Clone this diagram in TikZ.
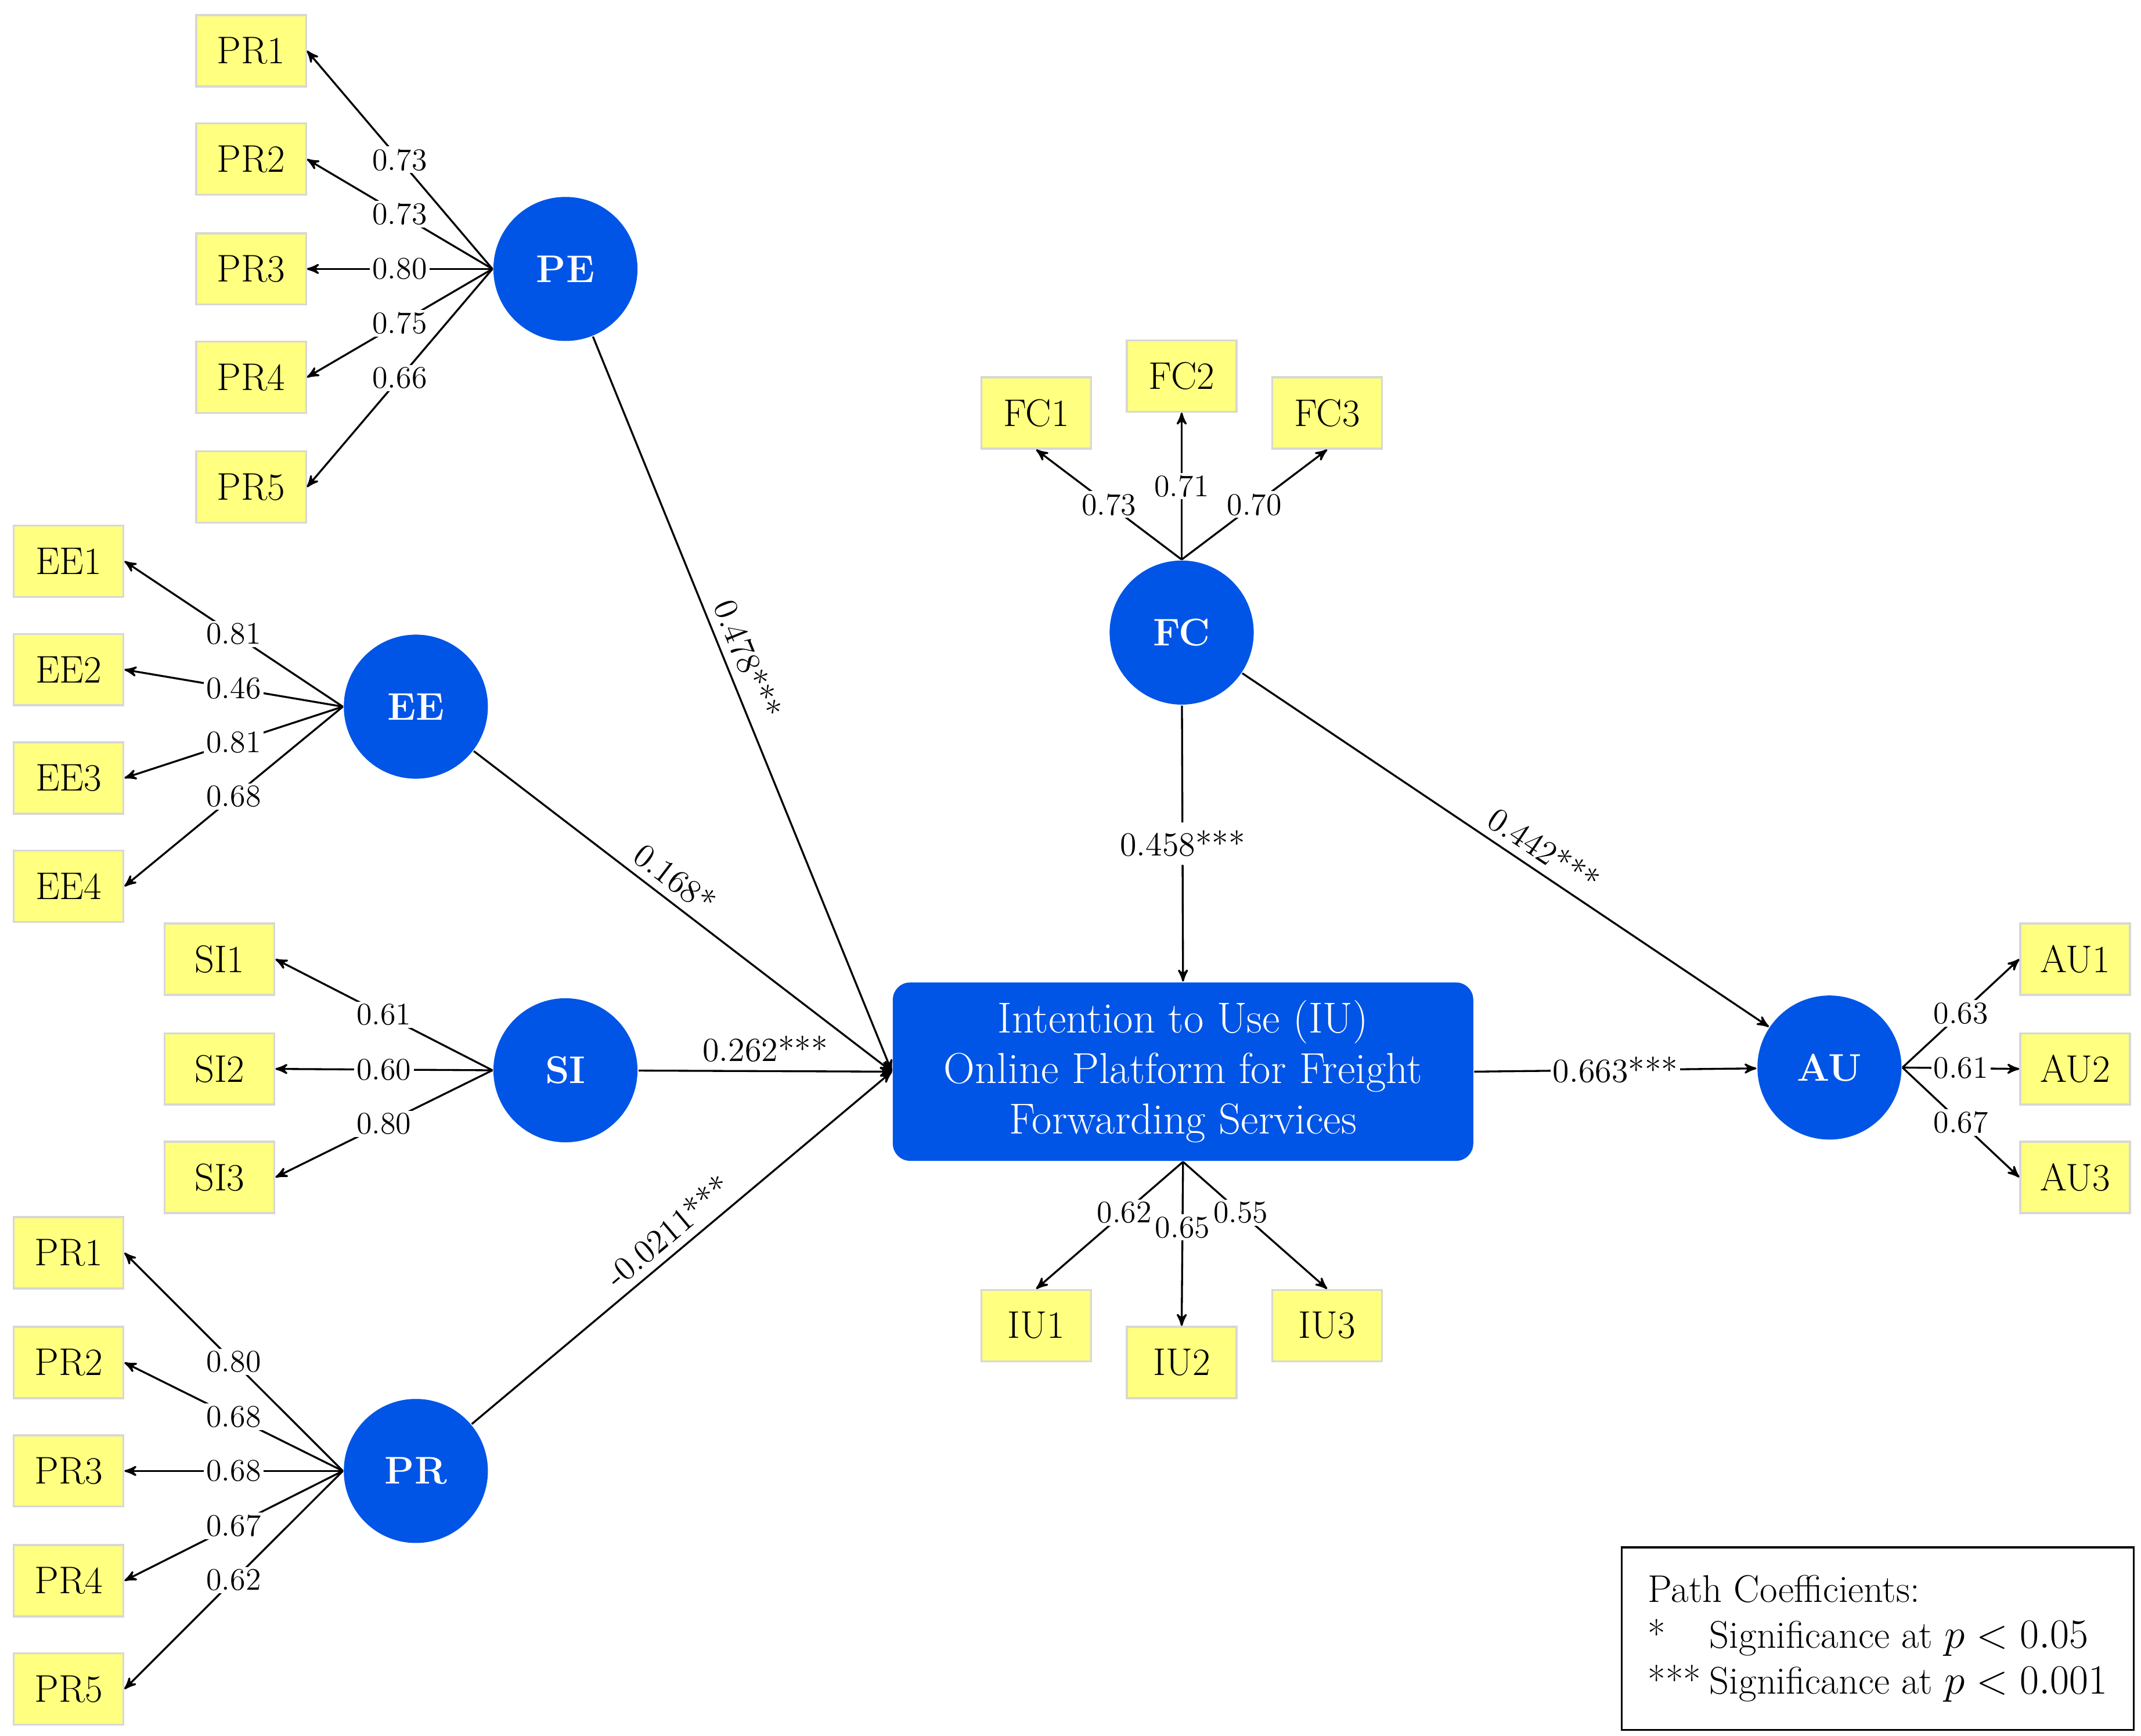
\documentclass[tikz,border=0pt]{standalone}
\usepackage{amsmath,amssymb}
\usepackage{xcolor}
\usetikzlibrary{arrows}
\usetikzlibrary{shapes,backgrounds}
\definecolor{lvblue}{RGB}{0,85,230}
\definecolor{indyellow}{RGB}{255,255,128}
\definecolor{indgray}{RGB}{215,215,215}
\begin{document}
\begin{tikzpicture}[x=0.02cm,y=-0.02cm,>=stealth',thick,
    latent/.style={circle,fill=lvblue,minimum size=2.1cm,inner sep=0pt,text=white,font=\fontsize{16}{18}\selectfont\bfseries},
    ind/.style={rectangle,fill=indyellow,draw=indgray,minimum width=1.6cm,minimum height=1.04cm,font=\fontsize{16}{18}\selectfont},
    load/.style={fill=white,inner sep=1pt,font=\fontsize{13}{15}\selectfont},
    coef/.style={font=\fontsize{14}{16}\selectfont}]
  \useasboundingbox (0,0) rectangle (1560,1265);

  \node[latent] (PE) at (412,196) {PE};
  \node[latent] (EE) at (303,515) {EE};
  \node[latent] (SI) at (412,780) {SI};
  \node[latent] (PR) at (303,1072) {PR};
  \node[latent] (FC) at (861,461) {FC};
  \node[latent] (AU) at (1333,778) {AU};
  \node[rectangle,rounded corners=0.25cm,fill=lvblue,text=white,minimum width=8.46cm,minimum height=2.6cm,
        align=center,font=\fontsize{18}{21}\selectfont] (IU) at (862,781)
        {Intention to Use (IU)\\Online Platform for Freight\\Forwarding Services};

  % indicators
  \foreach \i/\y/\l in {1/37/0.73,2/116/0.73,3/196/0.80,4/275/0.75,5/355/0.66} {
    \node[ind] (pe\i) at (183,\y) {PR\i};
    \draw[->] (PE.west) -- node[load] {\l} (pe\i.east);
  }
  \foreach \i/\y/\l in {1/409/0.81,2/488/0.46,3/567/0.81,4/646/0.68} {
    \node[ind] (ee\i) at (50,\y) {EE\i};
    \draw[->] (EE.west) -- node[load] {\l} (ee\i.east);
  }
  \foreach \i/\y/\l in {1/699/0.61,2/779/0.60,3/858/0.80} {
    \node[ind] (si\i) at (160,\y) {SI\i};
    \draw[->] (SI.west) -- node[load] {\l} (si\i.east);
  }
  \foreach \i/\y/\l in {1/913/0.80,2/993/0.68,3/1072/0.68,4/1152/0.67,5/1231/0.62} {
    \node[ind] (pr\i) at (50,\y) {PR\i};
    \draw[->] (PR.west) -- node[load] {\l} (pr\i.east);
  }
  \foreach \i/\x/\y/\l in {1/755/301/0.73,2/861/274/0.71,3/967/301/0.70} {
    \node[ind] (fc\i) at (\x,\y) {FC\i};
    \draw[->] (FC.north) -- node[load] {\l} (fc\i.south);
  }
  \foreach \i/\x/\y/\l in {1/755/966/0.62,2/861/993/0.65,3/967/966/0.55} {
    \node[ind] (iu\i) at (\x,\y) {IU\i};
    \draw[->] (IU.south) -- node[load,pos=0.4] {\l} (iu\i.north);
  }
  \foreach \i/\y/\l in {1/699/0.63,2/779/0.61,3/858/0.67} {
    \node[ind] (au\i) at (1512,\y) {AU\i};
    \draw[->] (AU.east) -- node[load] {\l} (au\i.west);
  }

  % structural paths
  \draw[->] (PE) -- node[coef,sloped,above,pos=0.45] {0.478***} (IU.west);
  \draw[->] (EE) -- node[coef,sloped,above,pos=0.45] {0.168*} (IU.west);
  \draw[->] (SI) -- node[coef,above] {0.262***} (IU.west);
  \draw[->] (PR) -- node[coef,sloped,above] {-0.0211***} (IU.west);
  \draw[->] (FC) -- node[coef,fill=white] {0.458***} (IU.north);
  \draw[->] (FC) -- node[coef,sloped,above,pos=0.55] {0.442***} (AU);
  \draw[->] (IU.east) -- node[coef,fill=white,inner sep=1pt] {0.663***} (AU);

  % legend
  \node[draw,thick,rectangle,anchor=north west,minimum width=7.46cm,minimum height=2.66cm,
        align=left,font=\fontsize{16}{19}\selectfont,inner sep=4pt] (legend) at (1181,1127)
        {Path Coefficients:\\
         \makebox[0.9cm][l]{*}Significance at $p<0.05$\\
         \makebox[0.9cm][l]{***}Significance at $p<0.001$};
\end{tikzpicture}
\end{document}
